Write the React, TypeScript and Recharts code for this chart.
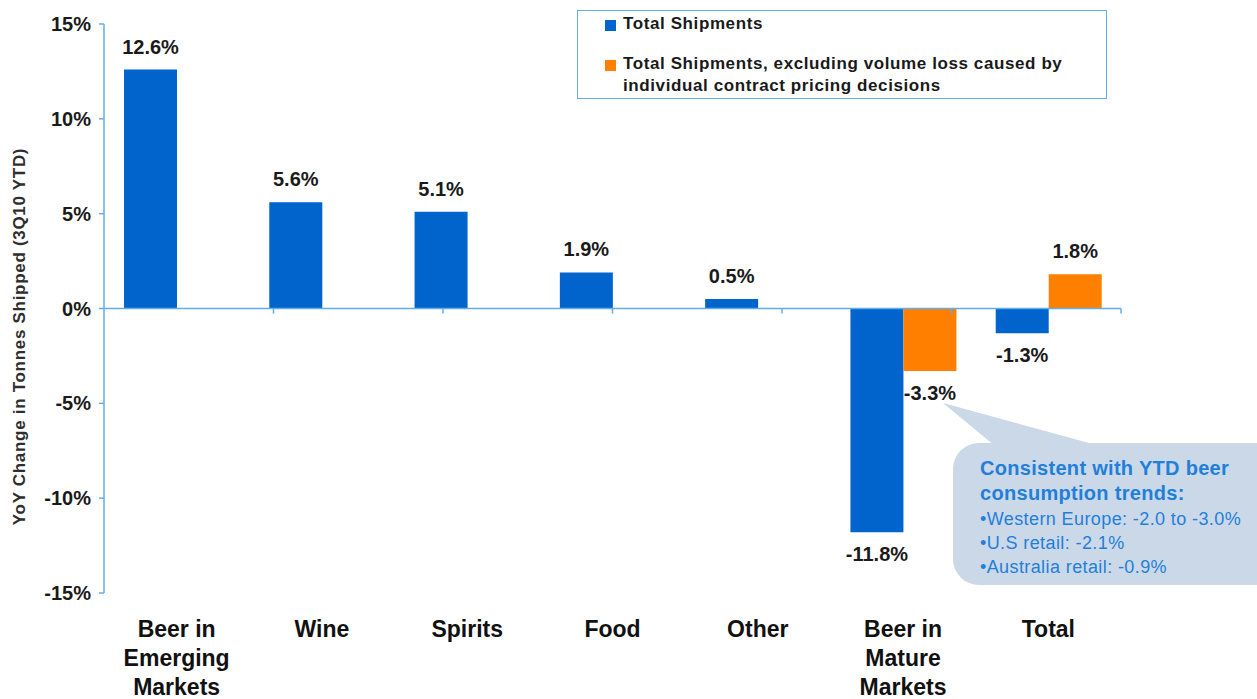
import React from 'react';
import { BarChart, Bar, XAxis, YAxis, ReferenceLine, LabelList, Legend } from 'recharts';

// ---------- data ----------
const categories = [
  'Beer in\nEmerging\nMarkets',
  'Wine',
  'Spirits',
  'Food',
  'Other',
  'Beer in\nMature\nMarkets',
  'Total',
];
const totalShipments = [12.6, 5.6, 5.1, 1.9, 0.5, -11.8, -1.3];
const totalExclPricing: (number | null)[] = [null, null, null, null, null, -3.3, 1.8];
const yTicks = [-15, -10, -5, 0, 5, 10, 15];
const seriesNames = [
  'Total Shipments',
  'Total Shipments, excluding volume loss caused by\nindividual contract pricing decisions',
];
const yAxisTitle = 'YoY Change in Tonnes Shipped (3Q10 YTD)';
const calloutTitle = ['Consistent with YTD beer', 'consumption trends:'];
const calloutItems = ['•Western Europe: -2.0 to -3.0%', '•U.S retail: -2.1%', '•Australia retail: -0.9%'];

const data = categories.map((c, i) => ({
  category: c,
  total: totalShipments[i],
  excl: totalExclPricing[i],
}));
const boundaries = categories.map((_, i) => i + 1);

// ---------- styles ----------
const FONT = '"Liberation Sans", Arial, Helvetica, sans-serif';
const BLUE = '#0064cd';
const ORANGE = '#ff7f00';
const AXIS = '#62acea';
const TEXT = '#1a1a1a';
const CALLOUT_FILL = '#cbd8e8';
const CALLOUT_TEXT = '#1f7fd9';

const ValueLabel = (props: any) => {
  const vb = props.viewBox || props;
  const x = vb.x ?? props.x;
  const y = vb.y ?? props.y;
  const w = vb.width ?? props.width;
  const h = vb.height ?? props.height;
  const value = props.value;
  if (value === null || value === undefined) return null;
  const top = Math.min(y, y + h);
  const bottom = Math.max(y, y + h);
  const ty = value >= 0 ? top - 16 : bottom + 29;
  return (
    <text
      x={x + w / 2}
      y={ty}
      textAnchor="middle"
      fontSize={20}
      fontWeight="bold"
      fill={TEXT}
      fontFamily={FONT}
    >
      {`${Number(value).toFixed(1)}%`}
    </text>
  );
};

const CategoryTick = (props: any) => {
  const { x, y, payload } = props;
  const lines = String(payload.value).split('\n');
  return (
    <text x={x} y={y} textAnchor="middle" fontSize={23} fontWeight="bold" fill="#111" fontFamily={FONT}>
      {lines.map((l, i) => (
        <tspan key={i} x={x} dy={i === 0 ? 44 : 29}>
          {l}
        </tspan>
      ))}
    </text>
  );
};

const YTitle = (props: any) => {
  const vb = props.viewBox || { x: 0, y: 24, width: 104, height: 569 };
  const cx = vb.x + 19;
  const cy = vb.y + vb.height / 2 + 28;
  return (
    <text
      x={cx}
      y={cy}
      transform={`rotate(-90, ${cx}, ${cy})`}
      textAnchor="middle"
      dominantBaseline="central"
      fontSize={17}
      fontWeight="bold"
      fill="#2e2e2e"
      fontFamily={FONT}
      letterSpacing={0.7}
    >
      {yAxisTitle}
    </text>
  );
};

const LegendBox = (props: any) => {
  const payload = props.payload && props.payload.length ? props.payload : [
    { value: seriesNames[0], color: BLUE },
    { value: seriesNames[1], color: ORANGE },
  ];
  const tops = [2, 42];
  return (
    <div
      style={{
        position: 'relative',
        width: 530,
        height: 89,
        boxSizing: 'border-box',
        border: `1.5px solid ${AXIS}`,
        background: '#fff',
        fontFamily: FONT,
      }}
    >
      {payload.map((p: any, i: number) => (
        <div key={i} style={{ position: 'absolute', left: 27, top: tops[i] }}>
          <div
            style={{
              position: 'absolute',
              left: 0,
              top: 7,
              width: 11,
              height: 11,
              background: p.color,
            }}
          />
          <div
            style={{
              position: 'absolute',
              left: 18,
              top: 0,
              whiteSpace: 'pre',
              fontSize: 17,
              lineHeight: '22px',
              fontWeight: 'bold',
              color: TEXT,
              letterSpacing: 0.6,
            }}
          >
            {p.value}
          </div>
        </div>
      ))}
    </div>
  );
};

export default function App() {
  return (
    <div
      style={{
        position: 'absolute',
        left: 0,
        top: 0,
        width: 1257,
        height: 699,
        background: '#fff',
        overflow: 'hidden',
        fontFamily: FONT,
      }}
    >
      <BarChart
        width={1257}
        height={699}
        data={data}
        margin={{ top: 24, right: 136, left: 0, bottom: 0 }}
        barGap={0}
      >
        <XAxis
          xAxisId="cat"
          dataKey="category"
          axisLine={false}
          tickLine={false}
          tickSize={0}
          tickMargin={0}
          height={106}
          interval={0}
          tick={<CategoryTick />}
        />
        <XAxis xAxisId="num" type="number" domain={[0, categories.length]} hide />
        <YAxis
          domain={[-15, 15]}
          ticks={yTicks}
          interval={0}
          width={104}
          tickFormatter={(v: number) => `${v}%`}
          axisLine={{ stroke: AXIS, strokeWidth: 1.5 }}
          tickLine={{ stroke: AXIS, strokeWidth: 1.5 }}
          tickSize={5}
          tickMargin={8}
          tick={{ fontSize: 20, fontWeight: 'bold', fill: TEXT, fontFamily: FONT }}
          label={{ content: (p: any) => <YTitle {...p} /> }}
          allowDataOverflow
        />
        <Legend
          layout="horizontal"
          verticalAlign="middle"
          align="center"
          content={(p: any) => <LegendBox {...p} />}
          wrapperStyle={{ position: 'absolute', left: 577, top: 10, width: 530, height: 89 }}
        />
        <Bar
          xAxisId="cat"
          dataKey="total"
          name={seriesNames[0]}
          fill={BLUE}
          barSize={53}
          isAnimationActive={false}
        >
          <LabelList dataKey="total" content={(p: any) => <ValueLabel {...p} />} />
        </Bar>
        <Bar
          xAxisId="cat"
          dataKey="excl"
          name={seriesNames[1]}
          fill={ORANGE}
          barSize={53}
          isAnimationActive={false}
        >
          <LabelList dataKey="excl" content={(p: any) => <ValueLabel {...p} />} />
        </Bar>
        <ReferenceLine xAxisId="num" y={0} stroke={AXIS} strokeWidth={1.5} />
        {boundaries.map((b) => (
          <ReferenceLine
            key={b}
            xAxisId="num"
            segment={[
              { x: b, y: 0 },
              { x: b, y: -0.27 },
            ]}
            stroke={AXIS}
            strokeWidth={1.5}
          />
        ))}
      </BarChart>
      <svg
        width={1257}
        height={699}
        style={{ position: 'absolute', left: 0, top: 0, pointerEvents: 'none' }}
      >
        <polygon points="943,403 995,446 1100,446" fill={CALLOUT_FILL} />
        <rect x={953} y={443} width={340} height={142} rx={26} ry={26} fill={CALLOUT_FILL} />
        <g fontFamily={FONT} fill={CALLOUT_TEXT}>
          {calloutTitle.map((t, i) => (
            <text key={t} x={980} y={475 + i * 25} fontSize={20} fontWeight="bold" letterSpacing={0.3}>
              {t}
            </text>
          ))}
          {calloutItems.map((t, i) => (
            <text key={t} x={980} y={525 + i * 24} fontSize={18} letterSpacing={0.4}>
              {t}
            </text>
          ))}
        </g>
      </svg>
    </div>
  );
}
